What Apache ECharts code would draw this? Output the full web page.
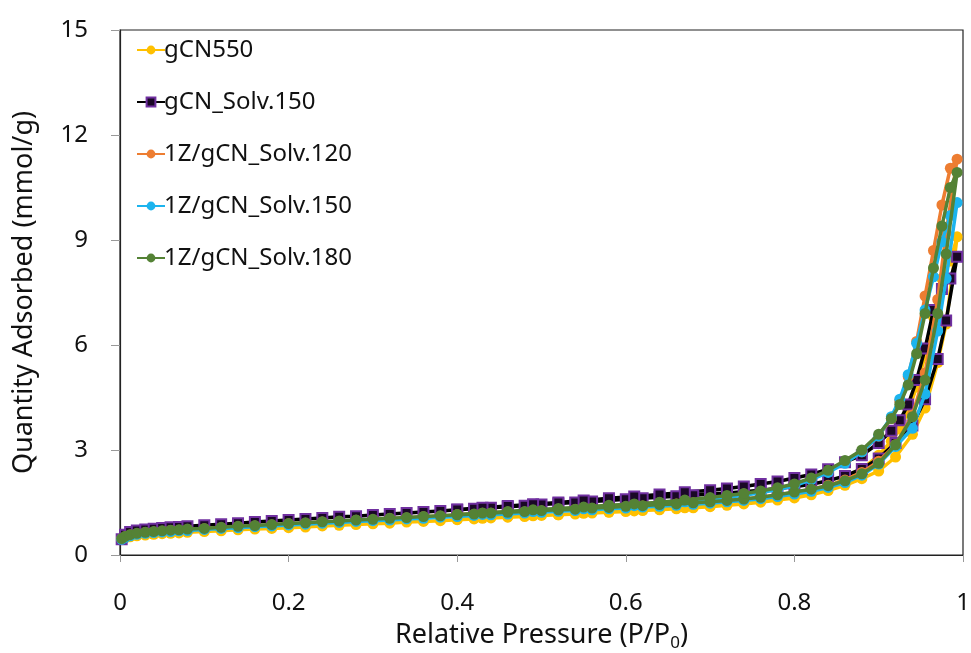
<!DOCTYPE html>
<html><head><meta charset="utf-8">
<script src="https://cdn.jsdelivr.net/npm/echarts@6/dist/echarts.min.js"></script>
<style>html,body{margin:0;padding:0;background:#fff}#c{width:971px;height:653px}</style>
</head><body><div id="c"></div>
<script>
// Relative pressure points, adsorption branch
var P_ads = [0.002,0.006,0.012,0.02,0.03,0.04,0.05,0.06,0.07,0.08,0.10,0.12,0.14,0.16,0.18,0.20,0.22,0.24,0.26,0.28,0.30,0.32,0.34,0.36,0.38,0.40,0.42,0.44,0.46,0.48,0.50,0.52,0.54,0.56,0.58,0.60,0.62,0.64,0.66,0.68,0.70,0.72,0.74,0.76,0.78,0.80,0.82,0.84,0.86,0.88,0.90,0.92,0.94,0.955,0.97,0.98,0.993];
// Relative pressure points, desorption branch
var P_des = [0.993,0.985,0.975,0.965,0.955,0.945,0.935,0.925,0.915,0.90,0.88,0.86,0.84,0.82,0.80,0.78,0.76,0.74,0.72,0.70,0.67,0.64,0.61,0.58,0.55,0.52,0.49,0.46,0.43,0.40];

var names = ["gCN550","gCN_Solv.150","1Z/gCN_Solv.120","1Z/gCN_Solv.150","1Z/gCN_Solv.180"];

var gCN550_ads = [0.44,0.48,0.52,0.55,0.57,0.59,0.61,0.62,0.63,0.65,0.67,0.69,0.72,0.74,0.76,0.78,0.80,0.83,0.85,0.87,0.89,0.91,0.94,0.96,0.98,1.01,1.03,1.06,1.08,1.10,1.13,1.15,1.17,1.20,1.22,1.24,1.27,1.29,1.32,1.35,1.38,1.42,1.46,1.51,1.57,1.63,1.72,1.84,1.99,2.18,2.40,2.80,3.45,4.20,5.50,6.60,9.09];
var gCN550_des = [9.09,8.40,7.90,6.80,5.70,4.80,4.10,3.60,3.25,2.85,2.45,2.20,1.92,1.78,1.68,1.60,1.54,1.48,1.44,1.40,1.35,1.31,1.26,1.23,1.19,1.15,1.12,1.09,1.05,1.02];

var solv150_ads = [0.45,0.58,0.66,0.70,0.73,0.75,0.77,0.79,0.80,0.82,0.85,0.88,0.91,0.94,0.97,1.00,1.03,1.06,1.09,1.11,1.14,1.17,1.20,1.23,1.26,1.29,1.32,1.35,1.38,1.41,1.44,1.47,1.50,1.53,1.56,1.59,1.62,1.65,1.68,1.71,1.74,1.77,1.81,1.85,1.90,1.95,2.02,2.12,2.26,2.46,2.76,3.20,3.70,4.45,5.60,6.70,8.52];
var solv150_des = [8.52,7.90,7.60,7.00,5.90,5.00,4.30,3.85,3.55,3.20,2.85,2.65,2.45,2.30,2.20,2.10,2.03,1.96,1.90,1.85,1.79,1.73,1.67,1.62,1.56,1.50,1.45,1.40,1.35,1.30];

var z120_ads = [0.46,0.52,0.57,0.61,0.64,0.66,0.68,0.70,0.71,0.73,0.75,0.78,0.81,0.83,0.86,0.89,0.91,0.94,0.96,0.99,1.01,1.04,1.06,1.09,1.11,1.14,1.16,1.19,1.21,1.23,1.26,1.28,1.30,1.33,1.35,1.38,1.40,1.43,1.46,1.49,1.52,1.56,1.60,1.65,1.71,1.79,1.88,1.99,2.14,2.36,2.68,3.15,4.00,5.20,7.30,9.20,11.31];
var z120_des = [11.31,11.05,10.00,8.70,7.40,6.10,5.10,4.40,3.90,3.40,2.95,2.65,2.40,2.18,2.01,1.90,1.81,1.74,1.68,1.62,1.55,1.49,1.44,1.40,1.35,1.31,1.27,1.23,1.19,1.15];

var z150_ads = [0.45,0.50,0.55,0.59,0.62,0.64,0.66,0.67,0.69,0.70,0.73,0.76,0.78,0.81,0.83,0.86,0.88,0.91,0.93,0.96,0.98,1.00,1.03,1.05,1.08,1.10,1.13,1.15,1.17,1.20,1.22,1.25,1.27,1.29,1.32,1.34,1.37,1.39,1.42,1.45,1.48,1.52,1.56,1.61,1.67,1.74,1.82,1.93,2.07,2.28,2.60,3.10,3.62,4.60,6.40,7.90,10.07];
var z150_des = [10.07,9.70,8.95,7.95,7.00,6.05,5.15,4.45,3.95,3.40,2.95,2.62,2.36,2.15,1.98,1.87,1.78,1.71,1.65,1.59,1.52,1.46,1.41,1.37,1.32,1.28,1.24,1.20,1.16,1.12];

var z180_ads = [0.47,0.53,0.58,0.62,0.65,0.67,0.69,0.71,0.72,0.74,0.76,0.79,0.82,0.84,0.87,0.90,0.92,0.95,0.97,1.00,1.02,1.05,1.07,1.10,1.12,1.15,1.17,1.20,1.22,1.24,1.27,1.29,1.31,1.34,1.36,1.39,1.41,1.44,1.46,1.49,1.52,1.56,1.60,1.65,1.72,1.80,1.88,1.98,2.12,2.32,2.62,3.15,3.95,5.00,6.90,8.60,10.93];
var z180_des = [10.93,10.50,9.40,8.20,6.90,5.75,4.86,4.30,3.90,3.45,3.00,2.70,2.42,2.20,2.03,1.92,1.83,1.76,1.70,1.64,1.57,1.51,1.46,1.42,1.37,1.33,1.29,1.24,1.20,1.16];

var xTicks = [0,0.2,0.4,0.6,0.8,1];
var yTicks = [0,3,6,9,12,15];

function loop(ads, des){
  var out = [];
  for (var i=0;i<P_ads.length;i++) out.push([P_ads[i], ads[i]]);
  for (var j=1;j<P_des.length;j++) out.push([P_des[j], des[j]]);
  return out;
}

var FONT = '"Noto Sans", sans-serif';
var styles = [
  {color:'#FFC000', line:'#FFC000', symbol:'circle', size:11, border:'#FFC000'},
  {color:'#1a0826', line:'#000000', symbol:'rect', size:10, border:'#7030A0'},
  {color:'#ED7D31', line:'#ED7D31', symbol:'circle', size:11, border:'#ED7D31'},
  {color:'#1CB4EE', line:'#1CB4EE', symbol:'circle', size:11, border:'#1CB4EE'},
  {color:'#548235', line:'#548235', symbol:'circle', size:11, border:'#548235'}
];
var dataSets = [loop(gCN550_ads,gCN550_des), loop(solv150_ads,solv150_des), loop(z120_ads,z120_des), loop(z150_ads,z150_des), loop(z180_ads,z180_des)];

var series = names.map(function(n,i){
  var s = styles[i];
  return {
    name:n, type:'line', data:dataSets[i], smooth:false,
    symbol:s.symbol, symbolSize:s.size, showAllSymbol:true,
    lineStyle:{color:s.line, width:3.5},
    itemStyle:{color:s.color, borderColor:s.border, borderWidth: i===1?2:0},
    emphasis:{disabled:true}, animation:false, z:2+i
  };
});

var chart = echarts.init(document.getElementById('c'), null, {renderer:'canvas'});
chart.setOption({
  animation:false,
  grid:{left:120, right:8, top:30, bottom:98, show:true, borderColor:'#222', borderWidth:1.2, containLabel:false, outerBoundsMode:'none'},
  legend:{
    orient:'vertical', left:131, top:33, itemGap:28, itemWidth:28, itemHeight:11,
    textStyle:{fontFamily:FONT, fontSize:24, color:'#111', padding:[0,0,0,-6]},
    data:names
  },
  xAxis:{
    type:'value', min:0, max:1, interval:0.2,
    axisLine:{lineStyle:{color:'#222', width:1.2}},
    axisTick:{show:true, length:7, lineStyle:{color:'#999'}},
    axisLabel:{fontFamily:FONT, fontSize:24, color:'#111', margin:36,
      formatter:function(v){ for (var k=0;k<xTicks.length;k++){ if (Math.abs(v-xTicks[k])<1e-9) return String(xTicks[k]); } return ''; }},
    splitLine:{show:false},
    name:'Relative Pressure (P/P{s|0})', nameLocation:'middle', nameGap:63,
    nameTextStyle:{fontFamily:FONT, fontSize:27, color:'#111', rich:{s:{fontFamily:FONT, fontSize:17, color:'#111', verticalAlign:'bottom', padding:[17,0,0,0]}}}
  },
  yAxis:{
    type:'value', min:0, max:15, interval:3,
    axisLine:{show:true, lineStyle:{color:'#222', width:1.2}},
    axisTick:{show:true, length:9, lineStyle:{color:'#999'}},
    axisLabel:{fontFamily:FONT, fontSize:24, color:'#111', margin:32,
      formatter:function(v){ return yTicks.indexOf(v)>=0 ? String(v) : ''; }},
    splitLine:{show:false},
    name:'Quantity Adsorbed (mmol/g)', nameLocation:'middle', nameGap:82, nameRotate:90,
    nameTextStyle:{fontFamily:FONT, fontSize:27, color:'#111'}
  },
  series:series
});
</script></body></html>
